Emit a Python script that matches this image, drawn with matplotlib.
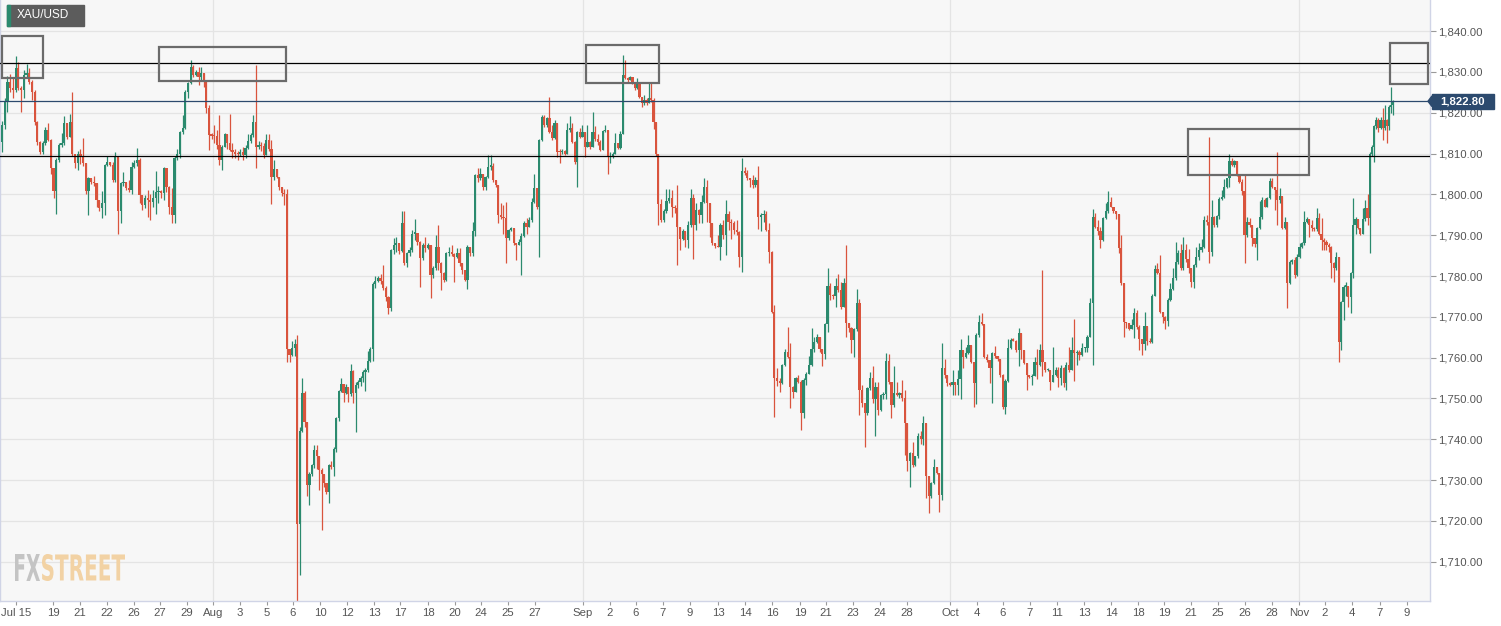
import matplotlib
matplotlib.use("Agg")
import matplotlib.pyplot as plt
from matplotlib.patches import Rectangle, Polygon, PathPatch
from matplotlib.textpath import TextPath
from matplotlib.font_manager import FontProperties
from matplotlib.transforms import Affine2D
import numpy as np

plt.rcParams['font.family'] = ['Liberation Sans', 'DejaVu Sans']

W, H = 1501, 626

# XAU/USD 4h candles, Jul 15 -> Nov 8 (open of each candle = previous close)
first_open = 1812.9
closes = [
    # Jul 15 - Jul 22
    1817.0, 1822.7, 1827.4, 1826.0, 1825.6, 1831.0, 1826.0, 1825.6, 1829.2, 1829.6,
    1827.6, 1825.1, 1817.8, 1812.9, 1810.4, 1812.5, 1815.8, 1813.3, 1806.4, 1800.7,
    1808.4, 1812.1, 1812.5, 1817.4, 1814.1, 1817.8, 1810.0, 1807.6, 1810.0, 1809.5,
    1807.6, 1800.7, 1803.9, 1803.1, 1802.7, 1798.6, 1796.6, 1798.0, 1807.3, 1808.0,
    1807.3, 1803.5, 1809.2, 1795.9, 1802.7, 1803.0, 1801.5, 1801.1, 1806.8, 1807.6,
    # Jul 23 - Aug 5
    1808.4, 1799.8, 1797.4, 1799.0, 1798.6, 1798.2, 1799.0, 1800.5, 1800.7, 1800.3,
    1806.4, 1801.9, 1797.0, 1795.0, 1809.0, 1810.0, 1815.2, 1816.2, 1825.1, 1827.3,
    1831.3, 1829.2, 1830.0, 1828.8, 1829.6, 1827.8, 1821.1, 1814.5, 1814.4, 1814.3,
    1812.2, 1808.4, 1811.7, 1814.7, 1812.5, 1810.9, 1810.4, 1810.0, 1809.8, 1810.4,
    1809.6, 1811.3, 1813.1, 1814.5, 1817.8, 1811.7, 1812.2, 1811.8, 1809.6,
    # Aug 5 - Aug 16
    1813.4, 1811.0, 1804.3, 1806.1, 1804.3, 1801.7, 1800.4, 1800.0, 1762.0, 1760.7,
    1762.4, 1763.3, 1719.2, 1742.1, 1751.4, 1744.3, 1728.9, 1731.5, 1733.7, 1737.3,
    1736.0, 1732.4, 1731.5, 1729.3, 1727.1, 1733.7, 1733.3, 1737.7, 1745.2, 1751.8,
    1753.6, 1751.4, 1752.7, 1751.0, 1756.7, 1751.4, 1753.2, 1754.1, 1755.0, 1756.4,
    1757.1, 1759.3, 1762.0, 1778.0, 1778.8, 1779.6, 1778.8, 1777.0, 1774.8, 1772.1,
    1786.3, 1787.6,
    # Aug 17 - Aug 27
    1788.0, 1786.2, 1792.9, 1783.1, 1785.6, 1786.4, 1790.4, 1790.6, 1788.4, 1784.3,
    1787.6, 1786.8, 1787.6, 1780.2, 1781.9, 1787.2, 1783.1, 1780.7, 1779.0, 1785.6,
    1785.9, 1785.4, 1784.7, 1785.6, 1783.1, 1781.5, 1779.0, 1787.2, 1785.6, 1791.1,
    1804.7, 1803.9, 1805.1, 1801.9, 1804.3, 1806.8, 1807.0, 1803.5, 1802.3, 1794.9,
    1794.4, 1794.2, 1789.2, 1791.3, 1791.7, 1788.0, 1787.6, 1788.4, 1789.8,
    # Aug 27 - Sep 7
    1792.9, 1792.1, 1793.7, 1798.2, 1801.5, 1797.0, 1813.3, 1819.0, 1817.0, 1818.6,
    1815.3, 1813.7, 1817.4, 1810.4, 1810.3, 1810.6, 1810.0, 1815.8, 1816.2, 1812.9,
    1808.0, 1815.2, 1814.1, 1815.2, 1811.7, 1812.9, 1811.7, 1815.3, 1813.5, 1812.9,
    1810.9, 1815.5, 1815.8, 1809.2, 1809.2, 1810.0, 1812.5, 1811.3, 1814.9, 1829.2,
    1828.6, 1828.0, 1828.8, 1827.6, 1826.0, 1827.2, 1823.9, 1822.3, 1823.1, 1822.3,
    1823.5, 1823.1, 1817.8,
    # Sep 7 - Sep 17
    1810.0, 1797.6, 1793.7, 1795.9, 1798.4, 1799.0, 1797.0, 1796.6, 1792.1, 1789.0,
    1790.9, 1788.7, 1792.5, 1799.0, 1792.5, 1796.2, 1795.0, 1798.2, 1801.9, 1797.8,
    1792.9, 1788.0, 1787.3, 1787.0, 1792.5, 1790.0, 1795.3, 1793.3, 1792.9, 1791.3,
    1790.7, 1784.7, 1805.8, 1805.3, 1803.9, 1803.5, 1802.3, 1803.5, 1794.4, 1795.0,
    1795.1, 1791.3, 1786.0, 1771.3, 1755.0, 1754.4, 1753.9, 1758.2, 1761.5,
    # Sep 17 - Sep 30
    1760.2, 1752.9, 1751.7, 1754.9, 1754.1, 1746.4, 1754.5, 1756.0, 1758.2, 1762.0,
    1763.9, 1765.1, 1762.0, 1760.9, 1768.2, 1777.6, 1775.3, 1775.1, 1777.6, 1776.6,
    1772.5, 1778.2, 1768.6, 1767.2, 1764.3, 1766.9, 1773.3, 1752.1, 1749.0, 1746.4,
    1752.5, 1754.9, 1749.8, 1752.9, 1747.2, 1750.9, 1751.0, 1759.3, 1754.1, 1748.4,
    1751.3, 1750.9, 1751.4, 1750.0, 1743.9, 1734.8, 1736.7, 1733.7, 1735.8,
    # Sep 30 - Oct 12
    1740.7, 1740.2, 1743.9, 1730.9, 1726.0, 1729.2, 1733.3, 1731.8, 1726.4, 1757.4,
    1755.8, 1753.7, 1753.3, 1754.1, 1753.3, 1754.7, 1761.9, 1760.1, 1761.1, 1763.1,
    1759.0, 1753.7, 1765.6, 1768.8, 1768.2, 1760.1, 1759.4, 1757.4, 1761.1, 1760.4,
    1759.6, 1755.8, 1748.0, 1754.4, 1762.3, 1764.3, 1764.2, 1761.9, 1766.1, 1761.9,
    1758.6, 1755.8, 1755.3, 1755.6, 1759.0, 1758.2, 1761.9, 1759.0,
    # Oct 12 - Oct 22
    1757.0, 1757.1, 1754.1, 1755.8, 1757.1, 1754.9, 1757.4, 1753.7, 1758.2, 1757.0,
    1761.9, 1761.1, 1761.5, 1760.7, 1762.3, 1762.3, 1765.1, 1773.5, 1794.5, 1792.1,
    1790.9, 1788.8, 1794.1, 1795.8, 1798.2, 1797.0, 1795.8, 1795.3, 1786.8, 1778.4,
    1768.8, 1768.4, 1766.9, 1768.0, 1771.0, 1767.6, 1764.5, 1763.3, 1767.8, 1764.2,
    1763.9, 1775.1, 1781.6, 1780.7, 1771.3, 1770.0, 1769.1, 1774.1, 1776.7, 1779.4,
    # Oct 22 - Nov 1
    1783.5, 1785.6, 1781.9, 1786.4, 1784.1, 1781.9, 1778.6, 1782.7, 1784.7, 1786.4,
    1787.2, 1793.7, 1793.3, 1786.0, 1794.4, 1792.5, 1794.7, 1798.8, 1799.3, 1801.7,
    1803.9, 1808.2, 1807.2, 1808.2, 1804.7, 1803.1, 1800.7, 1790.0, 1793.3, 1792.5,
    1789.2, 1787.8, 1791.7, 1794.5, 1798.6, 1797.0, 1799.0, 1803.3, 1801.7, 1801.1,
    1798.6, 1799.6, 1791.7, 1793.3, 1778.2, 1783.5, 1783.9, 1780.2, 1784.7, 1787.0,
    1788.0,
    # Nov 1 - Nov 8
    1793.3, 1793.9, 1792.5, 1791.7, 1791.4, 1794.1, 1790.4, 1788.8, 1788.4, 1787.6,
    1787.2, 1783.3, 1781.9, 1784.7, 1763.9, 1773.7, 1777.4, 1777.6, 1774.9, 1780.7,
    1792.5, 1793.9, 1791.7, 1790.4, 1793.9, 1796.6, 1794.1, 1810.0, 1811.7, 1816.7,
    1818.2, 1816.2, 1818.2, 1816.2, 1818.2, 1816.7, 1821.5, 1822.0, 1822.8,
]
highs = [
    1818.0, 1823.5, 1829.0, 1829.5, 1828.4, 1834.0, 1832.5, 1826.5, 1830.5, 1832.0,
    1831.0, 1828.0, 1825.5, 1818.0, 1813.0, 1813.0, 1816.5, 1817.4, 1813.5, 1806.5,
    1809.0, 1812.5, 1815.0, 1819.3, 1817.5, 1819.8, 1825.0, 1810.0, 1810.5, 1811.0,
    1813.7, 1807.6, 1804.2, 1804.0, 1804.5, 1802.7, 1798.6, 1800.7, 1807.5, 1809.5,
    1808.0, 1808.0, 1810.4, 1809.2, 1803.0, 1805.5, 1803.0, 1803.5, 1808.0, 1808.5,

    1811.3, 1808.8, 1799.8, 1799.8, 1801.1, 1800.0, 1801.0, 1805.6, 1802.0, 1801.0,
    1806.8, 1806.5, 1802.0, 1801.5, 1809.5, 1811.0, 1815.5, 1819.4, 1825.5, 1827.6,
    1832.9, 1831.8, 1830.5, 1831.3, 1831.3, 1829.6, 1827.6, 1822.0, 1815.0, 1817.0,
    1815.7, 1819.4, 1812.0, 1815.0, 1814.8, 1819.6, 1812.5, 1811.0, 1810.5, 1811.0,
    1811.5, 1812.0, 1814.9, 1815.0, 1819.4, 1831.8, 1813.0, 1812.8, 1812.5,

    1814.9, 1814.9, 1813.4, 1808.3, 1805.5, 1804.3, 1801.7, 1801.3, 1801.3, 1762.0,
    1764.2, 1764.6, 1765.5, 1743.0, 1755.0, 1751.8, 1744.3, 1732.0, 1734.0, 1738.6,
    1738.6, 1736.0, 1733.0, 1731.5, 1729.3, 1734.0, 1734.8, 1738.0, 1745.5, 1752.0,
    1755.0, 1753.5, 1753.5, 1752.7, 1758.5, 1757.0, 1754.0, 1754.5, 1755.5, 1757.1,
    1757.5, 1761.6, 1762.5, 1778.5, 1780.1, 1780.1, 1780.5, 1782.7, 1777.5, 1775.0,
    1786.5, 1789.3,

    1789.6, 1788.0, 1795.8, 1795.8, 1786.0, 1787.0, 1791.3, 1793.9, 1790.4, 1788.5,
    1788.0, 1789.6, 1788.0, 1787.6, 1782.5, 1790.0, 1792.5, 1783.5, 1781.0, 1786.0,
    1787.2, 1787.5, 1785.6, 1786.8, 1786.8, 1783.1, 1781.5, 1787.5, 1787.2, 1793.3,
    1805.0, 1806.4, 1806.4, 1805.1, 1804.5, 1809.6, 1809.6, 1807.6, 1803.5, 1802.3,
    1797.8, 1797.4, 1798.2, 1791.5, 1792.1, 1791.7, 1788.0, 1789.0, 1790.5,

    1793.5, 1794.1, 1794.4, 1799.0, 1805.1, 1801.5, 1813.5, 1819.5, 1819.4, 1819.0,
    1823.9, 1817.0, 1818.2, 1817.4, 1811.0, 1811.0, 1810.9, 1817.4, 1819.3, 1817.4,
    1813.0, 1815.5, 1816.2, 1817.1, 1815.2, 1817.0, 1813.0, 1820.2, 1816.8, 1814.9,
    1813.3, 1815.8, 1817.1, 1815.8, 1810.4, 1810.3, 1815.0, 1812.5, 1815.5, 1834.1,
    1832.9, 1828.8, 1829.0, 1828.6, 1827.6, 1828.4, 1827.2, 1823.9, 1824.3, 1823.5,
    1827.2, 1827.2, 1823.5,

    1817.8, 1810.0, 1798.8, 1796.5, 1801.2, 1801.2, 1801.0, 1797.5, 1802.3, 1792.1,
    1791.5, 1791.0, 1793.5, 1801.2, 1800.0, 1798.0, 1796.5, 1799.8, 1803.9, 1803.5,
    1798.0, 1793.0, 1788.0, 1790.0, 1793.0, 1793.7, 1798.6, 1796.0, 1794.0, 1793.5,
    1793.7, 1791.0, 1808.8, 1806.8, 1806.0, 1804.0, 1804.8, 1804.3, 1806.9, 1795.5,
    1796.2, 1795.8, 1792.9, 1786.2, 1773.0, 1757.4, 1755.0, 1758.5, 1762.0,

    1767.6, 1763.7, 1753.0, 1755.2, 1755.8, 1754.5, 1755.0, 1756.5, 1760.3, 1767.2,
    1765.0, 1765.8, 1765.0, 1762.0, 1768.5, 1781.9, 1778.2, 1775.5, 1779.4, 1780.5,
    1778.6, 1779.4, 1787.6, 1768.6, 1767.6, 1767.2, 1776.7, 1774.3, 1753.3, 1749.0,
    1752.9, 1756.6, 1758.0, 1754.1, 1754.1, 1751.2, 1751.7, 1761.1, 1760.9, 1754.1,
    1758.0, 1754.1, 1751.7, 1754.5, 1752.1, 1743.9, 1737.0, 1739.4, 1736.0,

    1741.6, 1742.0, 1745.7, 1743.9, 1731.0, 1729.5, 1735.1, 1733.3, 1731.8, 1763.5,
    1759.6, 1755.8, 1754.0, 1757.1, 1754.1, 1757.0, 1764.5, 1761.9, 1762.7, 1765.6,
    1763.1, 1759.0, 1766.0, 1770.4, 1770.9, 1768.2, 1760.9, 1759.5, 1761.3, 1762.9,
    1760.4, 1759.6, 1756.0, 1754.7, 1764.5, 1764.7, 1764.7, 1764.3, 1767.2, 1766.1,
    1761.9, 1758.6, 1755.8, 1756.0, 1760.2, 1762.0, 1763.3, 1781.5,

    1759.0, 1757.5, 1757.1, 1762.7, 1757.8, 1757.8, 1758.2, 1757.7, 1759.0, 1762.7,
    1765.1, 1769.4, 1761.9, 1761.9, 1763.5, 1762.5, 1765.5, 1774.5, 1796.3, 1795.5,
    1793.7, 1791.9, 1794.5, 1797.8, 1800.7, 1799.4, 1797.0, 1796.0, 1795.3, 1790.0,
    1778.4, 1768.8, 1768.4, 1769.4, 1772.1, 1771.7, 1768.0, 1764.5, 1771.3, 1767.8,
    1764.7, 1775.5, 1782.7, 1783.1, 1785.1, 1771.3, 1770.2, 1774.5, 1778.2, 1781.9,

    1788.4, 1786.4, 1787.8, 1789.6, 1787.8, 1786.5, 1782.0, 1783.0, 1787.0, 1788.0,
    1789.0, 1794.7, 1794.9, 1814.0, 1798.6, 1794.7, 1794.9, 1799.3, 1801.1, 1803.7,
    1804.0, 1810.0, 1808.8, 1808.5, 1807.9, 1804.7, 1803.7, 1804.7, 1794.4, 1794.1,
    1792.5, 1789.2, 1792.0, 1798.4, 1799.3, 1799.0, 1799.3, 1803.9, 1803.9, 1801.7,
    1810.4, 1801.5, 1799.6, 1794.4, 1793.3, 1784.0, 1784.2, 1784.7, 1785.5, 1788.0,
    1788.4,

    1795.8, 1794.5, 1793.7, 1793.7, 1792.0, 1796.6, 1795.5, 1794.1, 1789.2, 1788.8,
    1788.0, 1787.3, 1783.5, 1786.0, 1784.7, 1774.0, 1777.8, 1778.5, 1777.6, 1781.0,
    1799.0, 1794.5, 1793.9, 1791.7, 1796.6, 1798.6, 1800.2, 1810.4, 1812.1, 1817.0,
    1819.0, 1818.6, 1819.0, 1821.1, 1821.9, 1818.5, 1822.0, 1826.4, 1823.1,
]
lows = [
    1810.4, 1816.0, 1820.2, 1825.0, 1823.5, 1825.0, 1825.5, 1820.2, 1823.5, 1828.5,
    1827.0, 1823.0, 1817.0, 1812.0, 1810.0, 1810.0, 1812.0, 1813.0, 1805.0, 1799.2,
    1795.3, 1808.0, 1811.5, 1812.0, 1813.5, 1814.0, 1809.5, 1806.5, 1806.0, 1807.4,
    1807.0, 1800.0, 1794.9, 1802.5, 1802.0, 1797.0, 1796.0, 1794.3, 1795.0, 1807.0,
    1807.0, 1803.0, 1803.0, 1790.4, 1793.0, 1802.0, 1801.0, 1800.5, 1800.0, 1806.5,

    1807.0, 1798.0, 1796.2, 1796.6, 1794.5, 1793.7, 1797.0, 1795.3, 1798.0, 1799.0,
    1798.6, 1800.5, 1795.3, 1792.9, 1792.9, 1808.5, 1809.0, 1814.9, 1816.0, 1823.5,
    1827.0, 1828.8, 1829.0, 1826.8, 1828.0, 1826.4, 1820.0, 1810.9, 1813.5, 1812.5,
    1811.0, 1807.2, 1806.0, 1811.5, 1811.0, 1810.5, 1809.0, 1809.0, 1808.4, 1809.5,
    1808.5, 1809.0, 1811.0, 1812.5, 1814.0, 1806.4, 1811.0, 1810.5, 1809.0,

    1811.0, 1810.5, 1797.7, 1803.5, 1803.9, 1801.0, 1799.5, 1797.3, 1758.9, 1758.9,
    1760.5, 1760.5, 1690.0, 1706.8, 1741.7, 1743.0, 1726.2, 1724.0, 1731.0, 1733.0,
    1732.8, 1727.5, 1717.8, 1728.4, 1726.5, 1724.5, 1732.8, 1731.1, 1737.0, 1744.5,
    1751.5, 1749.2, 1751.0, 1749.2, 1750.5, 1749.0, 1741.7, 1752.5, 1753.0, 1754.0,
    1751.8, 1756.5, 1759.0, 1759.3, 1777.0, 1778.5, 1778.0, 1776.5, 1774.0, 1770.8,
    1771.5, 1785.5,

    1786.0, 1785.5, 1786.0, 1782.7, 1782.3, 1785.0, 1786.0, 1788.8, 1787.6, 1777.4,
    1783.9, 1786.0, 1786.5, 1774.5, 1779.5, 1781.5, 1781.5, 1776.6, 1778.6, 1778.8,
    1785.0, 1785.0, 1778.6, 1784.5, 1782.5, 1780.5, 1778.8, 1776.9, 1785.0, 1785.0,
    1789.8, 1803.0, 1803.5, 1801.1, 1801.1, 1804.0, 1806.0, 1803.0, 1801.9, 1792.9,
    1794.0, 1790.4, 1783.1, 1788.8, 1791.0, 1787.6, 1783.9, 1787.5, 1780.2,

    1789.5, 1790.4, 1792.0, 1793.3, 1798.0, 1796.5, 1784.7, 1813.0, 1816.5, 1816.5,
    1815.0, 1813.3, 1813.5, 1809.2, 1807.6, 1810.0, 1809.6, 1809.8, 1815.2, 1812.5,
    1807.5, 1801.9, 1813.8, 1814.0, 1809.2, 1811.5, 1811.0, 1811.5, 1813.0, 1812.1,
    1810.7, 1810.9, 1815.3, 1805.1, 1807.6, 1808.8, 1809.8, 1811.0, 1811.0, 1814.7,
    1828.2, 1827.5, 1828.0, 1827.0, 1825.5, 1825.8, 1823.5, 1821.5, 1821.9, 1822.0,
    1822.5, 1822.7, 1816.0,

    1809.5, 1792.5, 1793.3, 1793.3, 1795.5, 1798.0, 1794.5, 1795.5, 1782.7, 1786.4,
    1788.8, 1787.2, 1786.8, 1792.0, 1784.1, 1791.2, 1792.9, 1792.9, 1798.0, 1793.3,
    1789.6, 1787.5, 1786.8, 1787.0, 1783.9, 1789.0, 1785.1, 1791.3, 1789.0, 1790.4,
    1790.0, 1782.3, 1781.0, 1804.8, 1803.5, 1801.9, 1801.5, 1801.9, 1791.4, 1790.9,
    1793.3, 1791.0, 1783.1, 1770.9, 1745.5, 1753.0, 1751.7, 1753.5, 1757.9,

    1760.0, 1747.6, 1750.0, 1751.5, 1753.8, 1742.4, 1745.1, 1753.3, 1756.0, 1758.0,
    1761.5, 1763.5, 1761.5, 1758.0, 1759.6, 1766.4, 1774.1, 1774.3, 1772.3, 1776.0,
    1772.0, 1772.3, 1765.0, 1766.4, 1761.1, 1760.2, 1766.5, 1746.0, 1748.0, 1738.0,
    1746.0, 1752.0, 1749.0, 1740.8, 1746.0, 1747.0, 1749.8, 1749.8, 1753.5, 1745.1,
    1748.0, 1750.5, 1750.0, 1749.5, 1736.2, 1732.3, 1728.4, 1733.1, 1733.5,

    1735.5, 1738.8, 1738.6, 1725.6, 1721.9, 1725.6, 1729.0, 1731.5, 1722.3, 1725.1,
    1755.0, 1753.0, 1753.0, 1750.9, 1750.9, 1750.9, 1749.8, 1757.4, 1760.0, 1761.0,
    1758.6, 1748.0, 1748.7, 1765.0, 1768.0, 1759.8, 1759.0, 1753.9, 1748.8, 1760.0,
    1759.3, 1755.3, 1747.5, 1746.2, 1754.0, 1762.0, 1764.0, 1761.5, 1758.0, 1759.6,
    1758.5, 1752.2, 1754.9, 1753.3, 1755.5, 1754.7, 1758.0, 1755.5,

    1756.6, 1756.8, 1752.1, 1754.0, 1755.5, 1752.9, 1753.3, 1752.9, 1752.1, 1756.5,
    1757.0, 1754.4, 1758.2, 1759.4, 1760.5, 1761.5, 1761.5, 1765.0, 1758.2, 1791.8,
    1790.0, 1786.8, 1788.5, 1794.0, 1795.5, 1796.8, 1795.5, 1793.9, 1785.6, 1777.8,
    1765.1, 1767.2, 1766.8, 1766.9, 1764.7, 1767.0, 1761.9, 1760.7, 1761.9, 1763.1,
    1763.5, 1763.5, 1775.0, 1780.5, 1771.0, 1768.4, 1766.9, 1767.8, 1774.0, 1776.5,

    1779.0, 1783.0, 1781.5, 1781.5, 1783.5, 1780.7, 1777.4, 1777.0, 1782.3, 1784.0,
    1786.0, 1786.8, 1792.5, 1783.1, 1785.0, 1792.0, 1792.0, 1794.0, 1798.5, 1799.0,
    1801.5, 1801.9, 1807.0, 1806.8, 1804.5, 1802.9, 1799.8, 1783.1, 1789.5, 1792.0,
    1787.3, 1787.0, 1783.9, 1791.5, 1794.0, 1796.8, 1796.8, 1798.8, 1801.5, 1796.2,
    1792.5, 1798.0, 1791.5, 1791.5, 1772.1, 1778.0, 1783.0, 1779.5, 1780.0, 1784.5,
    1786.8,

    1787.5, 1793.0, 1789.6, 1791.0, 1791.0, 1791.0, 1790.0, 1786.4, 1786.4, 1786.4,
    1786.0, 1779.4, 1778.6, 1781.5, 1759.0, 1761.9, 1769.2, 1775.0, 1772.5, 1770.9,
    1779.4, 1790.4, 1791.4, 1790.0, 1790.2, 1793.5, 1792.5, 1785.6, 1809.5, 1808.0,
    1816.0, 1815.3, 1816.0, 1813.3, 1815.8, 1812.5, 1815.8, 1820.0, 1819.4,
]

day_labels = ["Jul 15", "19", "21", "22", "26", "27", "29", "Aug", "3", "5", "6", "10",
              "12", "13", "17", "18", "20", "24", "25", "27", "Sep", "2", "6", "7", "9",
              "13", "14", "16", "19", "21", "23", "24", "28", "Oct", "4", "6", "7", "11",
              "13", "14", "18", "19", "21", "25", "26", "28", "Nov", "2", "4", "7", "9"]
day_ticks = [16, 53, 80, 107, 134, 160, 187, 213, 240, 267, 293, 320, 347, 374, 400,
             428, 455, 481, 508, 535, 583, 610, 636, 663, 690, 718, 745, 772, 800, 826,
             853, 880, 907, 950, 977, 1003, 1030, 1057, 1084, 1111, 1138, 1164, 1191,
             1218, 1245, 1272, 1299, 1325, 1352, 1380, 1407]
month_starts = [213, 583, 950, 1299]
price_ticks = np.arange(1710, 1841, 10)
last_price = 1822.8
levels = [1832.2, 1809.3]
# highlighted zones: from candle, to candle, low, high
zones = [(0, 15.1, 1828.6, 1838.8), (58.2, 106.6, 1827.7, 1836.1), (224.4, 254.3, 1827.3, 1836.6),
         (453.8, 501.9, 1804.8, 1816.0), (536.4, 554.4, 1827.1, 1837.1)]

# time axis: candle number -> horizontal position (weekend gaps are not drawn)
anchor_idx = [0, 12, 70, 95, 111, 142, 181, 206, 239, 254, 285, 297, 360, 417, 462, 493, 514, 527, 538]
anchor_px = [2, 34.7, 190.7, 256, 297.3, 372.7, 475.3, 539.3, 623, 658.3, 742, 774.3, 942,
             1092.7, 1209.3, 1287.3, 1338.7, 1370, 1393.3]


def xpos(i):
    i = np.asarray(i, dtype=float)
    slope = (anchor_px[-1] - anchor_px[-2]) / (anchor_idx[-1] - anchor_idx[-2])
    out = np.interp(i, anchor_idx, anchor_px)
    return np.where(i > anchor_idx[-1], anchor_px[-1] + (i - anchor_idx[-1]) * slope, out)


closes = np.array(closes)
opens = np.concatenate([[first_open], closes[:-1]])
highs = np.maximum(np.array(highs), np.maximum(opens, closes))
lows = np.minimum(np.array(lows), np.minimum(opens, closes))
n = len(closes)
x = xpos(np.arange(n))

green, red = '#2b8a6e', '#d9543d'
cols = np.where(closes >= opens, green, red)

fig = plt.figure(figsize=(W / 100, H / 100), dpi=100)
fig.patch.set_facecolor('white')
ax = fig.add_axes([0, 25 / H, 1430 / W, 601 / H])
ax.set_facecolor('#f7f7f7')
ax.set_xlim(0, 1430)
ax.set_ylim(1700.4, 1847.6)

for p in price_ticks:
    ax.axhline(p, color='#e4e4e4', lw=0.9, zorder=0)
for m in month_starts:
    ax.axvline(m, color='#e4e4e4', lw=0.9, zorder=0)

ax.vlines(x, lows, highs, colors=cols, lw=0.9, zorder=2)
body = np.maximum(np.abs(closes - opens), 0.3)
ax.bar(x, body, bottom=np.minimum(opens, closes), width=2.2, color=cols, lw=0, zorder=3)

for lv in levels:
    ax.axhline(lv, color='black', lw=0.9, zorder=4)
ax.axhline(last_price, color='#2c4a6e', lw=0.9, zorder=4)

for i0, i1, lo, hi in zones:
    x0, x1 = float(xpos(i0)), float(xpos(i1))
    ax.add_patch(Rectangle((x0, lo), x1 - x0, hi - lo, fill=False, ec='#6b6b6b', lw=1.6, zorder=5))

# current price tag on the right axis
tag_h = 15 / 4.083
ax.add_patch(Rectangle((1432, last_price - tag_h / 2), 62, tag_h, color='#2c4a6e', clip_on=False, zorder=6))
ax.add_patch(Polygon([(1428, last_price), (1432, last_price + 1.3), (1432, last_price - 1.3)],
                     color='#2c4a6e', clip_on=False, zorder=6))
ax.text(1463, last_price, f"{last_price:,.2f}", color='white', fontsize=8.2, fontweight='bold',
        ha='center', va='center', clip_on=False, zorder=7)

ax.yaxis.tick_right()
ax.set_yticks(price_ticks)
ax.set_yticklabels([f"{v:,.2f}" for v in price_ticks])
ax.set_xticks(day_ticks)
ax.set_xticklabels(day_labels)
ax.tick_params(axis='y', length=4, width=0.8, color='#999999', labelsize=8.2, labelcolor='#555555', pad=2)
ax.tick_params(axis='x', length=3, width=0.8, color='#999999', labelsize=8.2, labelcolor='#555555', pad=2)
for name, s in ax.spines.items():
    s.set_color('#d0d4e6')
    s.set_linewidth(1)
ax.spines['top'].set_visible(False)

# instrument label, top left
fig.add_artist(Rectangle((7 / W, 1 - 26 / H), 77 / W, 21 / H, transform=fig.transFigure, color='#5c5c5c'))
fig.add_artist(Rectangle((7 / W, 1 - 26 / H), 3 / W, 21 / H, transform=fig.transFigure, color=green))
fig.text(17 / W, 1 - 15.5 / H, "XAU/USD", color='white', fontsize=8.5, va='center', ha='left')

# FXSTREET watermark, squeezed to the logo box
fp = FontProperties(family='DejaVu Sans', weight='bold')
for word, x0, x1, c in [("FX", 15, 40, '#c4c4c4'), ("STREET", 42, 125, '#f2d2a4')]:
    tp = TextPath((0, 0), word, size=40, prop=fp)
    bb = tp.get_extents()
    tr = (Affine2D().translate(-bb.x0, -bb.y0)
          .scale((x1 - x0) / bb.width, 27 / bb.height)
          .translate(x0, H - 581))
    fig.add_artist(PathPatch(tp, transform=tr, color=c, lw=0))

fig.savefig("out.png", dpi=100, facecolor='white')
